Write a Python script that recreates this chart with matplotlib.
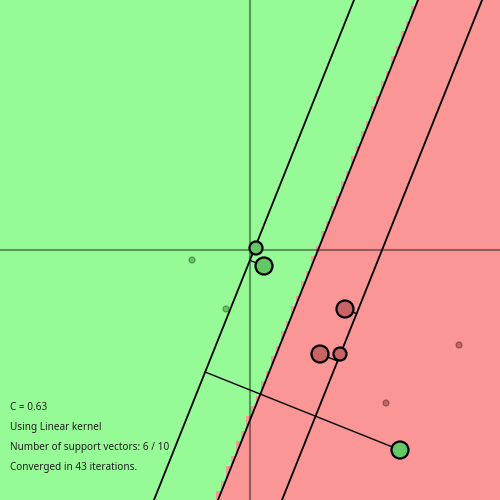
import numpy as np
import matplotlib
matplotlib.use('Agg')
from matplotlib import pyplot as plt
from matplotlib.patches import Circle

# points in demo units (canvas px = 250 + 50*v, y grows downward)
green_x = [0.12, 0.28, -1.16, -0.48, 3.00]
green_y = [-0.04, 0.32, 0.20, 1.18, 4.00]
green_a = [0.6, 1.0, 0.0, 0.0, 1.0]   # alpha / C
red_x = [1.90, 1.40, 1.80, 4.18, 2.72]
red_y = [1.18, 2.08, 2.08, 1.90, 3.06]
red_a = [1.0, 1.0, 0.6, 0.0, 0.0]

# linear decision function f = w0*x + w1*y + b  (f>0 green)
w = np.array([-0.781, -0.3125])
b = 1.0625

info = ['C = 0.63', 'Using Linear kernel',
        'Number of support vectors: 6 / 10', 'Converged in 43 iterations.']

ss = 50.0
fig = plt.figure(figsize=(5, 5), dpi=100)
ax = fig.add_axes([0, 0, 1, 1])
ax.set_xlim(-5, 5)
ax.set_ylim(5, -5)
ax.axis('off')

# background grid, 5px cells like the canvas demo
c = np.arange(0, 501, 5) / ss - 5
gx, gy = np.meshgrid(c, c)
dec = w[0]*gx + w[1]*gy + b
img = np.where(dec[..., None] > 0, [150/255, 250/255, 150/255], [250/255, 150/255, 150/255])
d = 3.5/ss
ax.imshow(img, extent=(-5-d, -5-d+101*0.1, -5-d+101*0.1, -5-d), interpolation='nearest', zorder=0)

# axes
ax.axhline(0, color='black', alpha=0.4, lw=1.5, zorder=1)
ax.axvline(0, color='black', alpha=0.4, lw=1.5, zorder=1)

# decision boundary and margins
yy = np.array([-5.5, 5.5])
for m in [0, 1, -1]:
    xx = (m - b - w[1]*yy) / w[0]
    ax.plot(xx, yy, color='black', lw=1.3, zorder=2)

# lines from support vectors to their margin
pts = [(x, y, a, 1) for x, y, a in zip(green_x, green_y, green_a)] + \
      [(x, y, a, -1) for x, y, a in zip(red_x, red_y, red_a)]
for x, y, a, lab in pts:
    if a > 0:
        f = w[0]*x + w[1]*y + b
        t = (f - lab) / np.dot(w, w)
        ax.plot([x, x - t*w[0]], [y, y - t*w[1]], color='black', lw=1.0, zorder=3)

# points
for x, y, a, lab in pts:
    col = (100/255, 200/255, 100/255) if lab == 1 else (200/255, 100/255, 100/255)
    r = np.floor(3 + a*5) / ss
    if a > 0:
        ax.add_patch(Circle((x, y), r + 0.5/ss, facecolor=col, edgecolor='black', lw=1.6, zorder=4))
    else:
        ax.add_patch(Circle((x, y), r, facecolor=col, edgecolor=(0, 0, 0, 0.35), lw=0.8, zorder=4))

for i, s in enumerate(info):
    ax.text(-4.8, 3.2 + 0.4*i, s, fontsize=7.2, family='Noto Sans', color='#222222', va='baseline', zorder=5)

fig.savefig('out.png', dpi=100)
